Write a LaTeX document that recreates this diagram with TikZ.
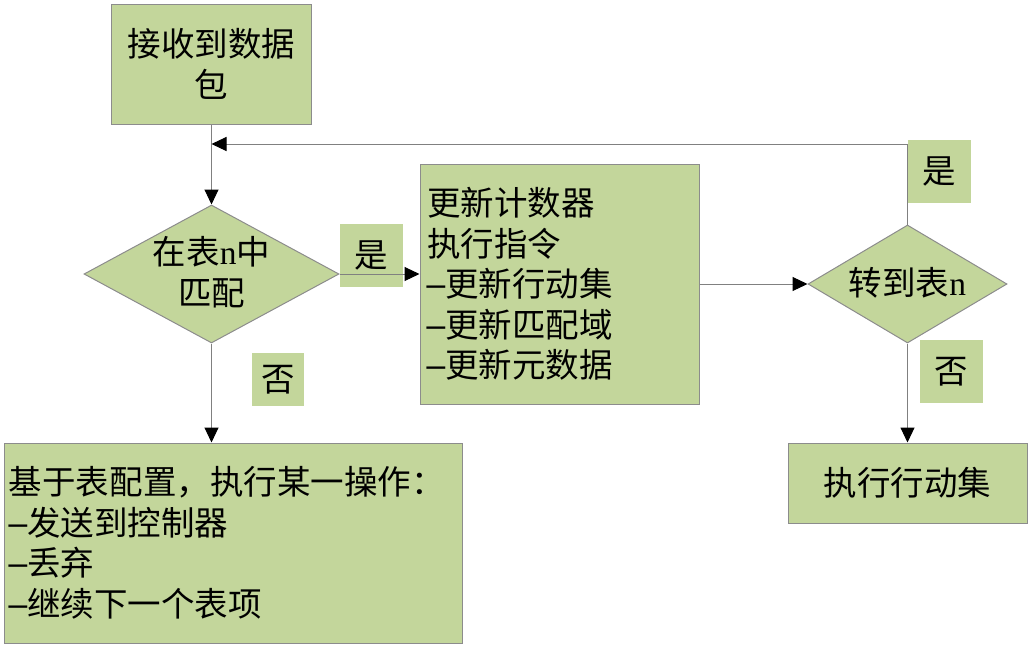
\documentclass[tikz,border=0pt]{standalone}
\usepackage{fontspec}
\setmainfont{Noto Sans CJK SC}
\newfontfamily\latn{Liberation Serif}
\newcommand\hy{\makebox[0.55em][c]{\scalebox{2.2}[1]{-}}}
\usetikzlibrary{shapes.geometric,arrows.meta}
\definecolor{boxfill}{HTML}{C3D69B}
\definecolor{boxline}{HTML}{8C8C8C}
\definecolor{connline}{HTML}{808080}
\begin{document}
\begin{tikzpicture}[x=1pt,y=-1pt,
  every node/.style={font=\fontsize{33.5}{40.5}\selectfont},
  proc/.style={draw=boxline, line width=1pt, fill=boxfill, inner sep=0pt},
  decision/.style={diamond, draw=boxline, line width=1pt, fill=boxfill, inner sep=0pt},
  lbl/.style={fill=boxfill, inner sep=0pt},
  txt/.style={inner sep=0pt, align=center},
  conn/.style={draw=connline, line width=1pt, -{Triangle[length=15pt,width=14pt,color=black]}}]
\useasboundingbox (0,0) rectangle (1032,648);
% boxes
\node[proc, minimum width=200pt, minimum height=120pt, align=center] (recv) at (211.5,64) {接收到数据\\包};
\node[decision, minimum width=255pt, minimum height=138pt] (d1) at (211.5,274) {};
\node[txt] (d1t) at (211.5,272) {在表{\latn n}中\\匹配};
\node[proc, minimum width=279pt, minimum height=240pt, text width=265pt, align=left] (upd) at (559.5,284) {\raisebox{2pt}{\parbox{265pt}{更新计数器\\执行指令\\\hy 更新行动集\\\hy 更新匹配域\\\hy 更新元数据}}};
\node[decision, minimum width=199pt, minimum height=118pt] (d2) at (907.5,284) {};
\node[txt] (d2t) at (907.5,283) {转到表{\latn n}};
\node[proc, minimum width=239pt, minimum height=80pt] (act) at (907.5,483) {执行行动集};
\node[proc, minimum width=458pt, minimum height=200pt, text width=448pt, align=left] (rule) at (233,543) {基于表配置，执行某一操作：\\\hy 发送到控制器\\\hy 丢弃\\\hy 继续下一个表项};
% labels
\node[lbl, minimum size=63pt] (yes1) at (371.5,255.5) {是};
\node[lbl, minimum size=63pt] (yes2) at (939.5,171.5) {是};
\node[lbl, minimum width=52pt, minimum height=53pt] (no1) at (278,379.5) {否};
\node[lbl, minimum size=63pt] (no2) at (951,371.5) {否};
% connectors
\coordinate (fb) at (211.5,144);
\draw[conn] (recv.south) -- (d1.north);
\draw[conn] (d1.east) -- (d1.east -| upd.west);
\draw[conn] (upd.east) -- (d2.west);
\draw[conn] (d2.south) -- (act.north);
\draw[conn] (d1.south) -- (d1.south |- rule.north);
\draw[conn] (d2.north) |- (fb);
\end{tikzpicture}
\end{document}
